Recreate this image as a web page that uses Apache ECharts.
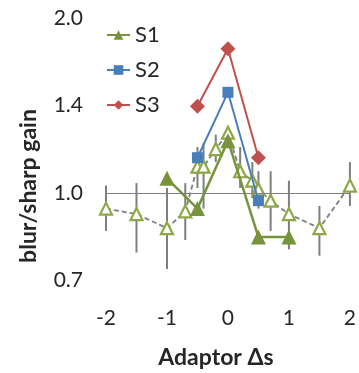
<!DOCTYPE html>
<html>
<head>
<meta charset="utf-8">
<script src="https://cdn.jsdelivr.net/npm/echarts@6/dist/echarts.min.js"></script>
<style>
  html, body { margin: 0; padding: 0; background: #fff; }
  #chart { width: 359px; height: 373px; }
</style>
</head>
<body>
<div id="chart"></div>
<script>
// Adaptor offsets (Δs) and gains for the pooled curve with its error bars
const pooledX = [-2, -1.5, -1, -0.7, -0.5, -0.4, -0.2, 0, 0.2, 0.4, 0.5, 0.7, 1, 1.5, 2];
const pooledGain = [0.94, 0.92, 0.87, 0.93, 1.11, 1.11, 1.19, 1.27, 1.09, 1.05, 1.015, 0.97, 0.92, 0.87, 1.03];
const pooledHigh = [1.03, 1.04, 1.02, 1.04, 1.2, 1.22, 1.26, 1.30, 1.2, 1.13, 1.09, 1.09, 1.05, 0.95, 1.13];
const pooledLow = [0.86, 0.79, 0.74, 0.83, 1.02, 0.94, 1.13, 1.24, 1.02, 0.98, 0.94, 0.86, 0.80, 0.78, 0.95];

// Individual subjects
const s1X = [-1, -0.5, 0, 0.5, 1];
const s1Gain = [1.06, 0.94, 1.23, 0.84, 0.84];
const s2X = [-0.5, 0, 0.5];
const s2Gain = [1.15, 1.49, 0.97];
const s3X = [-0.5, 0, 0.5];
const s3Gain = [1.41, 1.77, 1.15];

// Axis ticks and titles
const xTicks = [-2, -1, 0, 1, 2];
const yTicks = [Math.SQRT1_2, 1, Math.SQRT2, 2];
const xTitle = 'Adaptor Δs';
const yTitle = 'blur/sharp gain';

const pairs = (xs, ys) => xs.map((x, i) => [x, ys[i]]);

const FONT = 'Lato, "Open Sans", "DejaVu Sans", sans-serif';
const TEXT = '#262626';
const GRAY = '#7f7f7f';

const chart = echarts.init(document.getElementById('chart'), null, { renderer: 'canvas' });

chart.setOption({
  animation: false,
  backgroundColor: '#fff',
  textStyle: { fontFamily: FONT },
  grid: { left: 106, right: 3, top: 18, bottom: 92.5 },
  legend: {
    orient: 'vertical',
    left: 106,
    top: 24,
    padding: 0,
    itemGap: 13,
    itemWidth: 23,
    itemHeight: 12,
    textStyle: { fontFamily: FONT, fontSize: 22, color: TEXT },
    data: ['S1', 'S2', 'S3']
  },
  graphic: [
    {
      type: 'text',
      x: 29,
      y: 186,
      rotation: Math.PI / 2,
      style: {
        text: yTitle,
        fontFamily: FONT,
        fontSize: 23,
        fontWeight: 'bold',
        fill: TEXT,
        align: 'center',
        verticalAlign: 'middle'
      }
    },
    {
      type: 'text',
      x: 216,
      y: 358,
      style: {
        text: xTitle,
        fontFamily: FONT,
        fontSize: 23,
        fontWeight: 'bold',
        fill: TEXT,
        align: 'center',
        verticalAlign: 'middle'
      }
    }
  ],
  xAxis: {
    type: 'value',
    min: -2,
    max: 2,
    interval: 1,
    axisLine: { show: false },
    axisTick: { show: false },
    splitLine: { show: false },
    axisLabel: {
      customValues: xTicks,
      margin: 27,
      fontSize: 21,
      fontFamily: FONT,
      color: TEXT
    }
  },
  yAxis: {
    type: 'log',
    logBase: 2,
    min: Math.SQRT1_2,
    max: 2,
    axisLine: { show: false },
    axisTick: { show: false },
    splitLine: { show: false },
    axisLabel: {
      customValues: yTicks,
      margin: 23,
      fontSize: 21,
      fontFamily: FONT,
      color: TEXT,
      formatter: (v) => Number(v).toFixed(1)
    }
  },
  series: [
    {
      // error bars of the pooled curve
      type: 'custom',
      name: 'pooled range',
      silent: true,
      z: 1,
      data: pooledX.map((x, i) => [x, pooledLow[i], pooledHigh[i]]),
      renderItem: (params, api) => {
        const lo = api.coord([api.value(0), api.value(1)]);
        const hi = api.coord([api.value(0), api.value(2)]);
        return {
          type: 'line',
          shape: { x1: lo[0], y1: lo[1], x2: hi[0], y2: hi[1] },
          style: { stroke: GRAY, lineWidth: 2 }
        };
      }
    },
    {
      type: 'line',
      name: 'pooled',
      z: 2,
      data: pairs(pooledX, pooledGain),
      symbol: 'triangle',
      symbolSize: 12,
      lineStyle: { color: GRAY, width: 1.8, type: [5, 3] },
      itemStyle: { color: '#fff', borderColor: '#8fa846', borderWidth: 2.2 },
      markLine: {
        silent: true,
        symbol: 'none',
        label: { show: false },
        lineStyle: { color: GRAY, width: 1.2, type: 'solid' },
        data: [{ yAxis: 1 }]
      }
    },
    {
      type: 'line',
      name: 'S1',
      z: 3,
      data: pairs(s1X, s1Gain),
      symbol: 'triangle',
      symbolSize: 15,
      lineStyle: { color: '#77933c', width: 2.5 },
      itemStyle: { color: '#77933c' }
    },
    {
      type: 'line',
      name: 'S2',
      z: 4,
      data: pairs(s2X, s2Gain),
      symbol: 'rect',
      symbolSize: 11,
      lineStyle: { color: '#4a7ebb', width: 2 },
      itemStyle: { color: '#4a7ebb' }
    },
    {
      type: 'line',
      name: 'S3',
      z: 5,
      data: pairs(s3X, s3Gain),
      symbol: 'diamond',
      symbolSize: 15,
      lineStyle: { color: '#c0504d', width: 2 },
      itemStyle: { color: '#c0504d' }
    }
  ]
});
</script>
</body>
</html>
